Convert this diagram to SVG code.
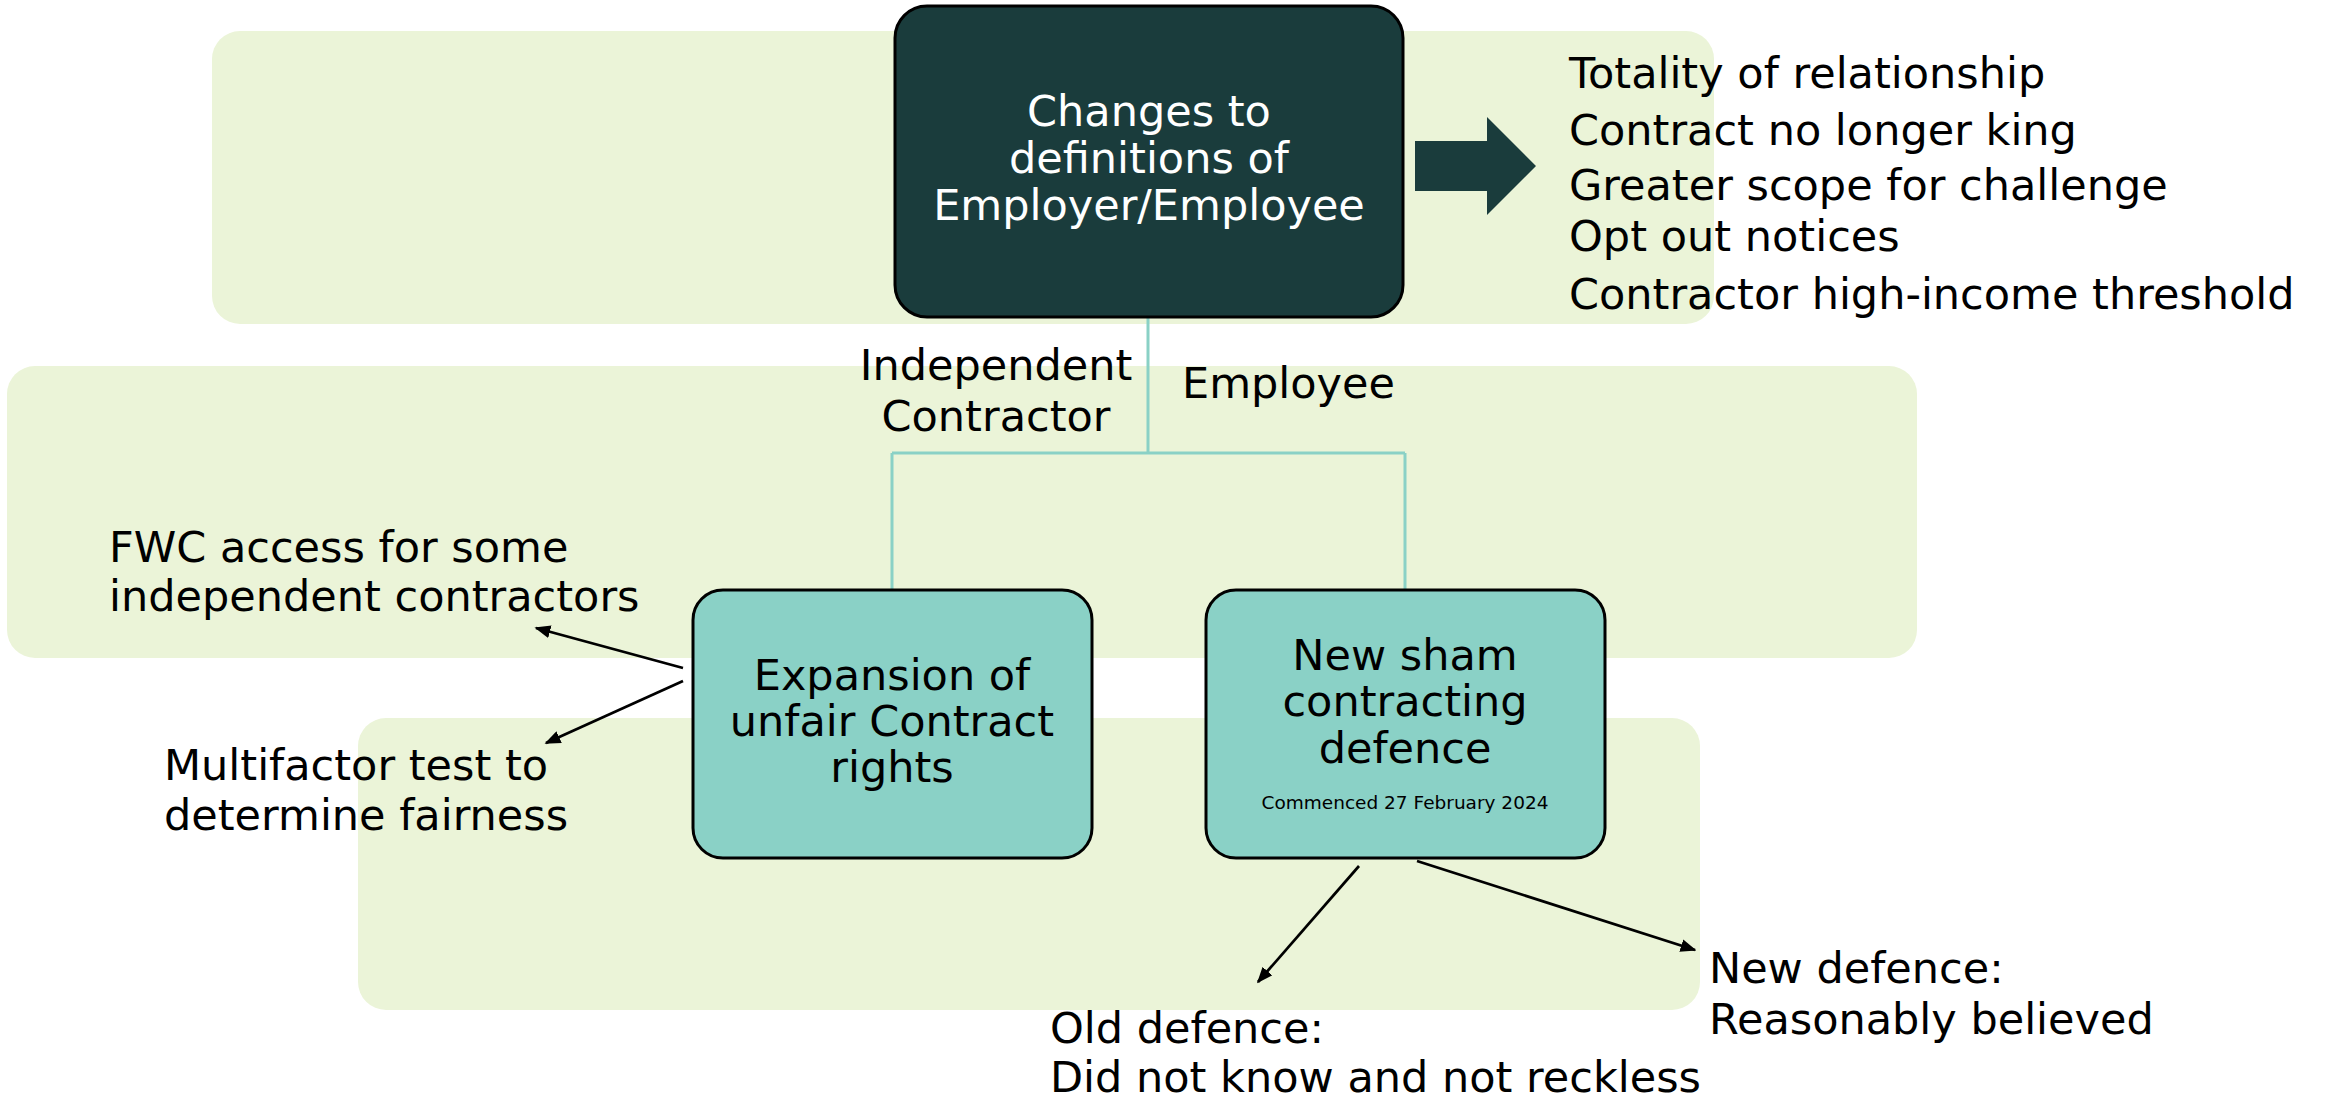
<svg xmlns="http://www.w3.org/2000/svg" width="2331" height="1098" viewBox="0 0 2331 1098">
<style>
.band{fill:#EBF4D8;}
.t{font-family:"DejaVu Sans","Liberation Sans",sans-serif;font-size:43px;fill:#000;}
.c{text-anchor:middle;}
.w{fill:#FFFFFF;}
.small{font-size:18.5px;}
.tree{stroke:#8AD1C6;stroke-width:3;fill:none;}
.arr{stroke:#000;stroke-width:2.7;fill:none;marker-end:url(#ah);}
.box{fill:#8AD1C6;stroke:#000;stroke-width:3;}
</style>
<defs>
<marker id="ah" viewBox="0 0 10 10" refX="9" refY="5" markerWidth="16" markerHeight="13" markerUnits="userSpaceOnUse" orient="auto" preserveAspectRatio="none">
<path d="M0,0 L10,5 L0,10 Z" fill="#000"/>
</marker>
</defs>
<rect width="2331" height="1098" fill="#FFFFFF"/>
<g id="bands">
<rect class="band" x="212" y="31" width="1502" height="293" rx="28"/>
<rect class="band" x="7" y="366" width="1910" height="292" rx="28"/>
<rect class="band" x="358" y="718" width="1342" height="292" rx="28"/>
</g>
<g id="connectors">
<path class="tree" d="M1148,318 V453 M892,453 H1405 M892,453 V590 M1405,453 V590"/>
<path d="M1415,141 H1487 V117 L1536,166 L1487,215 V191 H1415 Z" fill="#1A3C3C"/>
<line class="arr" x1="683" y1="668" x2="536" y2="628"/>
<line class="arr" x1="683" y1="681" x2="546" y2="743"/>
<line class="arr" x1="1359" y1="866" x2="1258" y2="982"/>
<line class="arr" x1="1417" y1="861" x2="1695" y2="950"/>
</g>
<g id="node-main">
<rect x="895" y="6" width="508" height="311" rx="32" fill="#1A3C3C" stroke="#000" stroke-width="3"/>
<text class="t c w" x="1149" y="126">Changes to</text>
<text class="t c w" x="1149" y="173">definitions of</text>
<text class="t c w" x="1149" y="220">Employer/Employee</text>
</g>
<g id="list-right">
<text class="t" x="1569" y="88">Totality of relationship</text>
<text class="t" x="1569" y="145">Contract no longer king</text>
<text class="t" x="1569" y="200">Greater scope for challenge</text>
<text class="t" x="1569" y="251">Opt out notices</text>
<text class="t" x="1569" y="309">Contractor high-income threshold</text>
</g>
<g id="label-ic">
<text class="t c" x="996" y="380">Independent</text>
<text class="t c" x="996" y="431">Contractor</text>
</g>
<g id="label-emp">
<text class="t" x="1182" y="398">Employee</text>
</g>
<g id="node-unfair">
<rect class="box" x="693" y="590" width="399" height="268" rx="30"/>
<text class="t c" x="892" y="690">Expansion of</text>
<text class="t c" x="892" y="736">unfair Contract</text>
<text class="t c" x="892" y="782">rights</text>
</g>
<g id="node-sham">
<rect class="box" x="1206" y="590" width="399" height="268" rx="30"/>
<text class="t c" x="1405" y="670">New sham</text>
<text class="t c" x="1405" y="716">contracting</text>
<text class="t c" x="1405" y="763">defence</text>
<text class="t c small" x="1405" y="809">Commenced 27 February 2024</text>
</g>
<g id="text-fwc">
<text class="t" x="109" y="562">FWC access for some</text>
<text class="t" x="109" y="611">independent contractors</text>
</g>
<g id="text-multi">
<text class="t" x="164" y="780">Multifactor test to</text>
<text class="t" x="164" y="830">determine fairness</text>
</g>
<g id="text-old">
<text class="t" x="1050" y="1043">Old defence:</text>
<text class="t" x="1050" y="1092">Did not know and not reckless</text>
</g>
<g id="text-new">
<text class="t" x="1709" y="983">New defence:</text>
<text class="t" x="1709" y="1034">Reasonably believed</text>
</g>
</svg>
